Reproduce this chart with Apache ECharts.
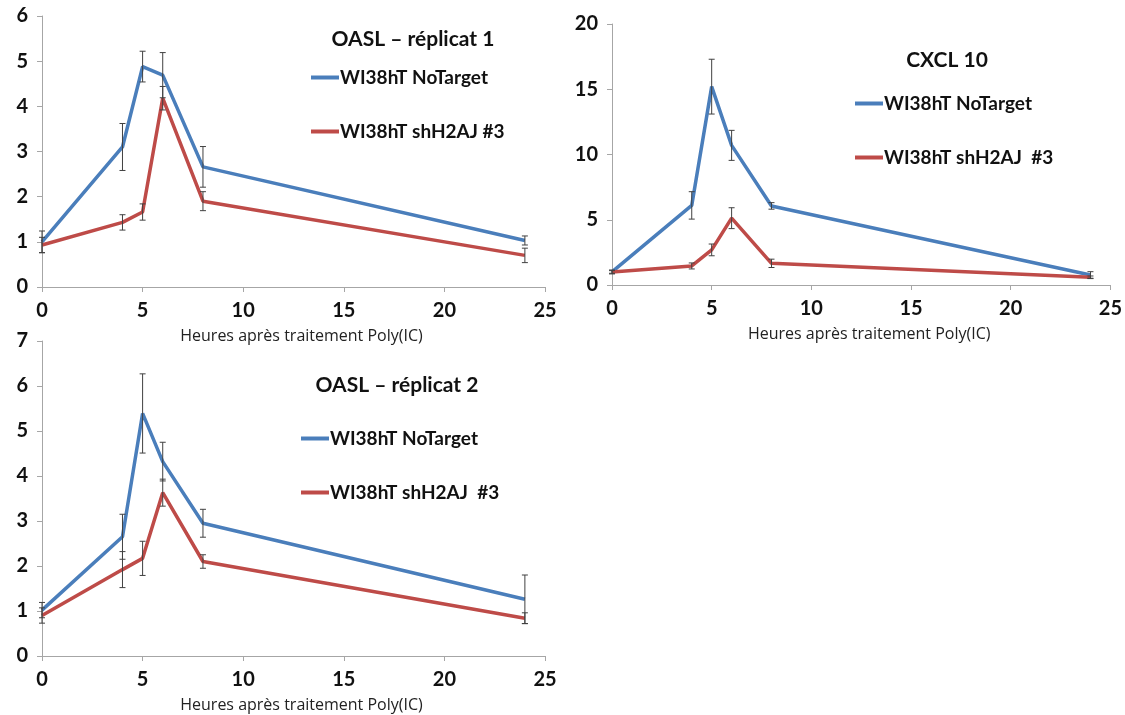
<!DOCTYPE html>
<html><head><meta charset="utf-8">
<script src="https://cdn.jsdelivr.net/npm/echarts@6/dist/echarts.min.js"></script>
<style>html,body{margin:0;padding:0;background:#fff}#c{width:1125px;height:715px}</style>
</head><body><div id="c"></div>
<script>
const hours = [0, 4, 5, 6, 8, 24];
const xTicks = [0, 5, 10, 15, 20, 25];
const seriesNames1 = ['WI38hT NoTarget', 'WI38hT shH2AJ #3'];
const seriesNames2 = ['WI38hT NoTarget', 'WI38hT shH2AJ  #3'];
const titles = ['OASL – réplicat 1', 'CXCL 10', 'OASL – réplicat 2'];
const xName = 'Heures après traitement Poly(IC)';

// OASL réplicat 1
const oasl1Blue = [1.0, 3.1, 4.88, 4.69, 2.66, 1.03];
const oasl1BlueErr = [0.24, 0.52, 0.34, 0.5, 0.45, 0.1];
const oasl1Red = [0.93, 1.43, 1.66, 4.18, 1.9, 0.7];
const oasl1RedErr = [0.17, 0.17, 0.18, 0.26, 0.21, 0.16];
// CXCL 10
const cxclBlue = [1.0, 6.1, 15.2, 10.7, 6.06, 0.77];
const cxclBlueErr = [0.15, 1.05, 2.1, 1.15, 0.25, 0.25];
const cxclRed = [1.0, 1.46, 2.69, 5.12, 1.66, 0.59];
const cxclRedErr = [0.1, 0.23, 0.45, 0.8, 0.32, 0.1];
// OASL réplicat 2
const oasl2Blue = [1.02, 2.65, 5.39, 4.32, 2.95, 1.26];
const oasl2BlueErr = [0.17, 0.5, 0.88, 0.43, 0.31, 0.54];
const oasl2Red = [0.9, 1.92, 2.17, 3.63, 2.1, 0.84];
const oasl2RedErr = [0.17, 0.4, 0.38, 0.3, 0.15, 0.12];

const BLUE = '#4A7EBB', RED = '#BE4B48';
const FONT = 'Lato';
const axisColor = '#A6A6A6';

function pairs(v){ return hours.map((h,i)=>[h, v[i]]); }
function errData(v, e){ return hours.map((h,i)=>[h, v[i], e[i]]); }

function errSeries(idx, v, e){
  return {
    type: 'custom', xAxisIndex: idx, yAxisIndex: idx, z: 5, silent: true,
    data: errData(v, e),
    renderItem: function(params, api){
      const x = api.value(0), y = api.value(1), err = api.value(2);
      const top = api.coord([x, y + err]);
      const bot = api.coord([x, y - err]);
      const cw = 3;
      const style = {stroke: '#404040', lineWidth: 1};
      return {type: 'group', children: [
        {type:'line', shape:{x1:top[0], y1:top[1], x2:bot[0], y2:bot[1]}, style: style},
        {type:'line', shape:{x1:top[0]-cw, y1:top[1], x2:top[0]+cw, y2:top[1]}, style: style},
        {type:'line', shape:{x1:bot[0]-cw, y1:bot[1], x2:bot[0]+cw, y2:bot[1]}, style: style}
      ]};
    }
  };
}
function lineSeries(idx, name, v, color){
  return {type:'line', name: name, xAxisIndex: idx, yAxisIndex: idx, data: pairs(v),
    showSymbol:false, symbol:'none', lineStyle:{color: color, width: 3.5}, itemStyle:{color: color}, z: 3};
}
function xAxis(idx){
  return {type:'value', gridIndex: idx, min: 0, max: 25, interval: 5,
    name: xName, nameLocation:'middle', nameGap: 41,
    nameTextStyle:{fontFamily:'Open Sans', fontSize: 16, color:'#222', padding:[0,0,0,16]},
    axisLine:{show:true, lineStyle:{color: axisColor}}, axisTick:{show:true, length:5, lineStyle:{color:axisColor}},
    splitLine:{show:false}, axisLabel:{fontFamily: FONT, fontWeight:'bold', fontSize: 20, color:'#111', margin: 14}};
}
function yAxis(idx, max, interval){
  return {type:'value', gridIndex: idx, min: 0, max: max, interval: interval,
    axisLine:{show:true, lineStyle:{color: axisColor}}, axisTick:{show:true, length:5, lineStyle:{color:axisColor}},
    splitLine:{show:false}, axisLabel:{fontFamily: FONT, fontWeight:'bold', fontSize: 20, color:'#111', margin: 14}};
}
function legend(names, left, top){
  return {data: names, orient:'vertical', left: left, top: top, itemGap: 35, itemWidth: 28, itemHeight: 4,
    icon:'rect', itemStyle:{borderWidth:0}, selectedMode:false,
    textStyle:{fontFamily: FONT, fontWeight:'bold', fontSize: 19, color:'#111', padding:[0,0,0,-4]}};
}

const option = {
  animation: false,
  title: [
    {text: titles[0], left: 408, top: 24, textAlign:'center', textStyle:{fontFamily:FONT, fontWeight:'bold', fontSize: 21, color:'#111'}},
    {text: titles[1], left: 942, top: 45, textAlign:'center', textStyle:{fontFamily:FONT, fontWeight:'bold', fontSize: 21, color:'#111'}},
    {text: titles[2], left: 392, top: 370, textAlign:'center', textStyle:{fontFamily:FONT, fontWeight:'bold', fontSize: 21, color:'#111'}}
  ],
  legend: [
    legend(seriesNames1, 306, 63),
    legend(seriesNames2, 850, 89),
    legend(seriesNames2, 296, 424)
  ],
  grid: [
    {left: 42, top: 16, width: 503, height: 271},
    {left: 612, top: 24, width: 500, height: 261},
    {left: 42, top: 341, width: 503, height: 315}
  ],
  xAxis: [xAxis(0), xAxis(1), xAxis(2)],
  yAxis: [yAxis(0, 6, 1), yAxis(1, 20, 5), yAxis(2, 7, 1)],
  series: [
    lineSeries(0, seriesNames1[0], oasl1Blue, BLUE),
    lineSeries(0, seriesNames1[1], oasl1Red, RED),
    errSeries(0, oasl1Blue, oasl1BlueErr),
    errSeries(0, oasl1Red, oasl1RedErr),
    lineSeries(1, seriesNames2[0], cxclBlue, BLUE),
    lineSeries(1, seriesNames2[1], cxclRed, RED),
    errSeries(1, cxclBlue, cxclBlueErr),
    errSeries(1, cxclRed, cxclRedErr),
    lineSeries(2, seriesNames2[0], oasl2Blue, BLUE),
    lineSeries(2, seriesNames2[1], oasl2Red, RED),
    errSeries(2, oasl2Blue, oasl2BlueErr),
    errSeries(2, oasl2Red, oasl2RedErr)
  ]
};
const chart = echarts.init(document.getElementById('c'), null, {renderer:'canvas'});
chart.setOption(option);
</script>
</body></html>
